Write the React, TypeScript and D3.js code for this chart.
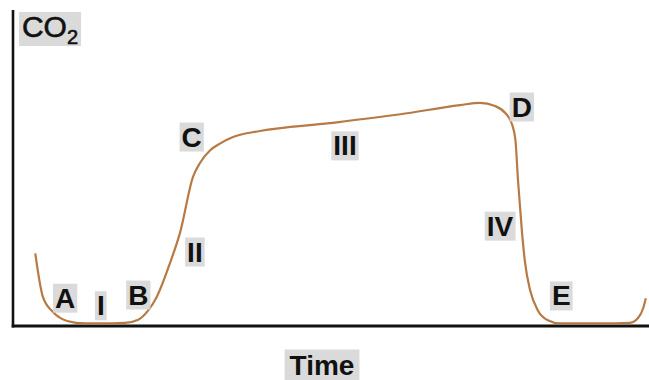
import React, { useEffect, useRef } from "react";
import * as d3 from "d3";

// Capnogram trace: time (arbitrary units) and exhaled CO2 level
const timeValues = [
  0.35, 0.47, 0.63, 0.85, 1.13, 1.37, 1.76, 1.97, 2.12, 2.26, 2.47, 2.63, 2.83, 2.94,
  3.1, 3.26, 3.46, 3.88, 4.98, 6.09, 7.03, 7.34, 7.58, 7.74, 7.85, 7.9, 7.94, 8.0,
  8.05, 8.13, 8.25, 8.41, 8.6, 9.23, 9.7, 9.83, 9.91, 9.95,
];
const co2Values = [
  11.5, 4.6, 2.2, 0.8, 0.4, 0.4, 0.5, 1.0, 2.4, 4.6, 10.0, 14.9, 23.6, 25.8,
  27.8, 28.9, 29.9, 30.85, 32.1, 33.5, 34.95, 35.3, 34.8, 33.7, 31.8, 29.4, 23.1, 15.2,
  10.1, 5.7, 2.5, 0.9, 0.4, 0.4, 0.5, 1.3, 2.85, 4.4,
];

// Phase markers placed on the trace
const markerNames = ["A", "I", "B", "II", "C", "III", "D", "IV", "E"];
const markerTime = [0.82, 1.38, 1.97, 2.86, 2.81, 5.22, 8.0, 7.66, 8.62];
const markerCo2 = [4.4, 3.2, 4.9, 11.7, 29.9, 28.5, 34.65, 15.8, 4.75];

const W = 649;
const H = 380;

export default function App() {
  const ref = useRef<SVGSVGElement | null>(null);

  useEffect(() => {
    const svg = d3.select(ref.current);
    svg.selectAll("*").remove();

    const x = d3.scaleLinear().domain([0, 10]).range([13, 649]);
    const y = d3.scaleLinear().domain([0, 50]).range([326, 10]);

    const font = "'Liberation Sans', Arial, sans-serif";
    const boxFill = "#d6d6d6";

    // axes
    svg.append("line")
      .attr("x1", x(0)).attr("x2", x(0))
      .attr("y1", y(50)).attr("y2", y(0) + 1.5)
      .attr("stroke", "#111").attr("stroke-width", 2.6);
    svg.append("line")
      .attr("x1", x(0) - 1.3).attr("x2", x(10))
      .attr("y1", y(0)).attr("y2", y(0))
      .attr("stroke", "#111").attr("stroke-width", 3);

    // trace
    const pts: [number, number][] = timeValues.map((t, i) => [t, co2Values[i]]);
    const line = d3.line<[number, number]>()
      .x((d) => x(d[0]))
      .y((d) => y(d[1]))
      .curve(d3.curveMonotoneX);
    svg.append("path")
      .attr("d", line(pts) as string)
      .attr("fill", "none")
      .attr("stroke", "#b87a45")
      .attr("stroke-width", 2.2);

    // labelled boxes
    const boxed = (cx: number, cy: number, padX: number, padY: number, build: (g: any) => void) => {
      const g = svg.append("g");
      const rect = g.append("rect").attr("fill", boxFill).attr("opacity", 0.9);
      const tg = g.append("g");
      build(tg);
      const bb = (tg.node() as SVGGElement).getBBox();
      tg.attr("transform", `translate(${cx - (bb.x + bb.width / 2)},${cy - (bb.y + bb.height / 2)})`);
      rect
        .attr("x", cx - bb.width / 2 - padX)
        .attr("y", cy - bb.height / 2 - padY)
        .attr("width", bb.width + padX * 2)
        .attr("height", bb.height + padY * 2);
    };

    markerNames.forEach((name, i) => {
      boxed(x(markerTime[i]), y(markerCo2[i]), 2, -1, (tg) => {
        tg.append("text")
          .attr("font-family", font)
          .attr("font-size", 28)
          .attr("font-weight", "bold")
          .attr("fill", "#111")
          .text(name);
      });
    });

    // axis titles
    boxed(50, 29, 3, -2, (tg) => {
      const t = tg.append("text")
        .attr("font-family", font)
        .attr("font-size", 30)
        .attr("fill", "#111")
        .attr("stroke", "#111")
        .attr("stroke-width", 0.6);
      t.append("tspan").text("CO");
      t.append("tspan").attr("font-size", 20).attr("dy", 7).text("2");
    });

    boxed(322, 365, 5, 0, (tg) => {
      tg.append("text")
        .attr("font-family", font)
        .attr("font-size", 28)
        .attr("font-weight", "bold")
        .attr("fill", "#111")
        .text("Time");
    });
  }, []);

  return (
    <svg
      ref={ref}
      width={W}
      height={H}
      style={{ position: "fixed", left: 0, top: 0, background: "#fff" }}
    />
  );
}
